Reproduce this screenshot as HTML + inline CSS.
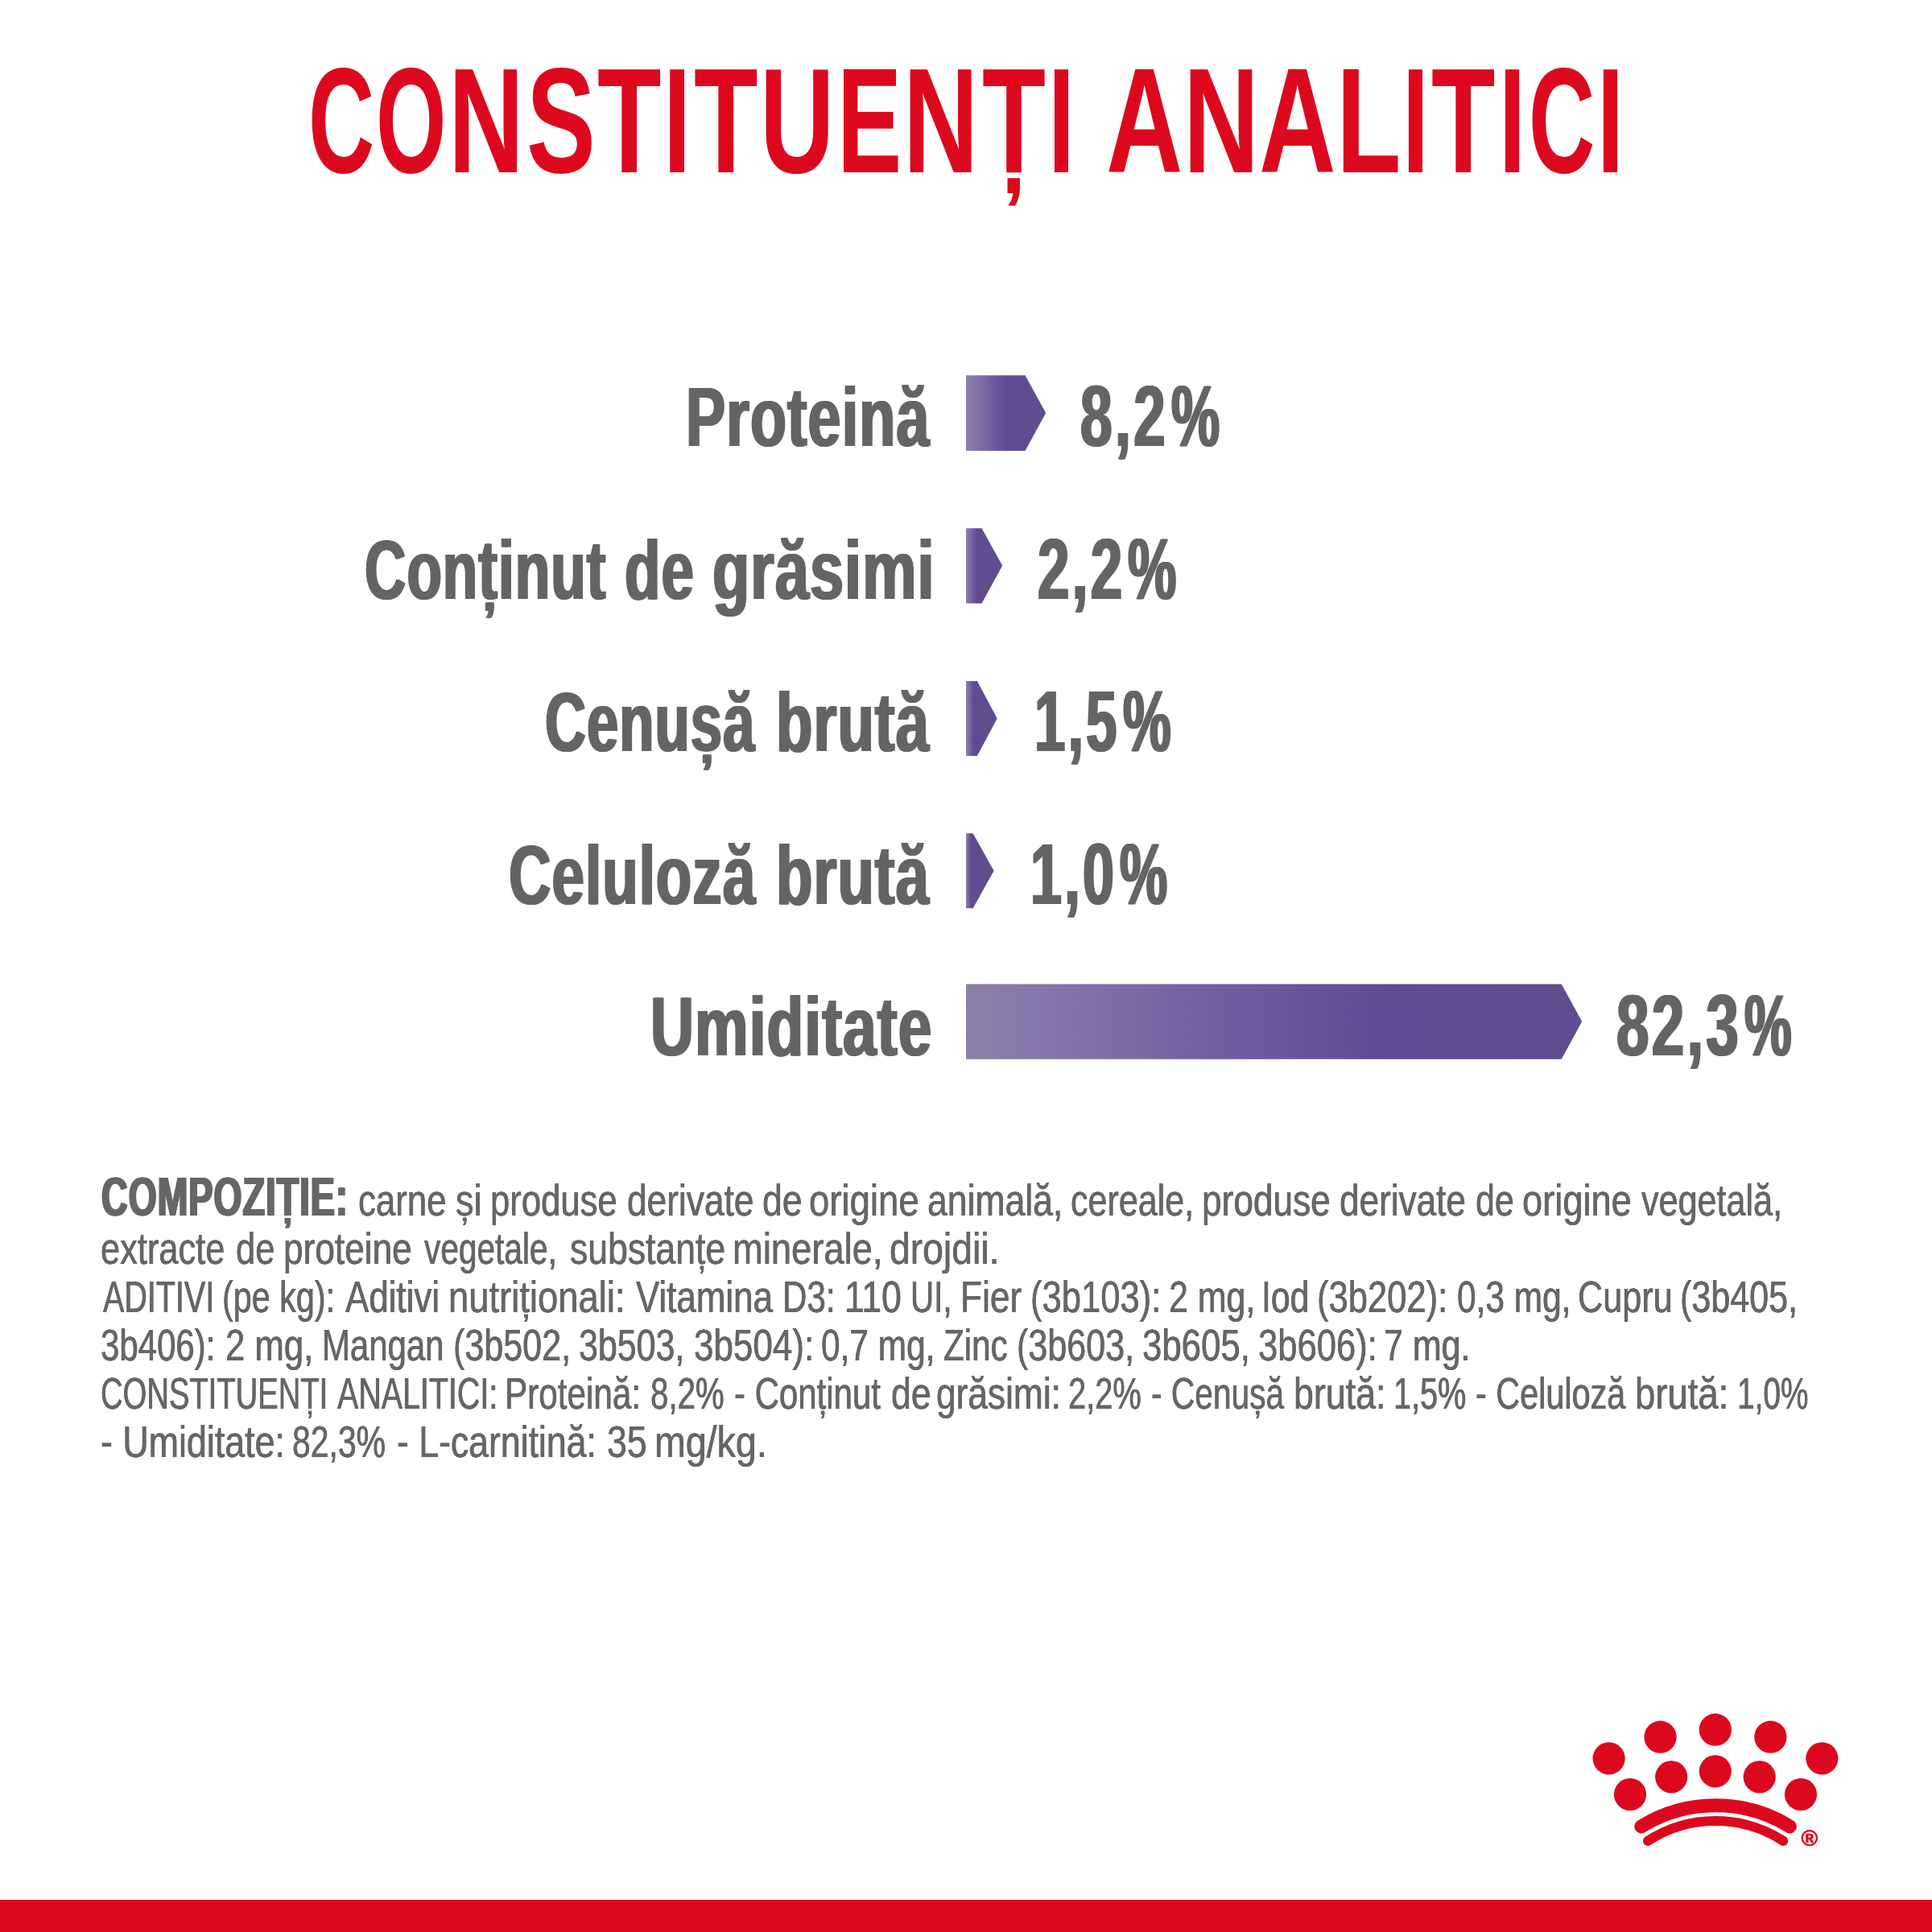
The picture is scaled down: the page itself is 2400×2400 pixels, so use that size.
<!DOCTYPE html>
<html lang="ro">
<head>
<meta charset="utf-8">
<title>Constituenți analitici</title>
<style>
  html, body { margin:0; padding:0; background:#fff; }
  body { width:2400px; height:2400px; position:relative; overflow:hidden;
         font-family:"Liberation Sans", sans-serif; }
  .g { margin:0; padding:0; font-size:0; line-height:0; font-weight:400; }
  .t { position:absolute; white-space:nowrap; line-height:1; transform-origin:0 50%;
        margin:0; padding:0; display:block; }
  .h   { font-size:186.49px; font-weight:700; color:#dc091e; }
  .lab { font-size:104.65px; font-weight:700; color:#646464; }
  .val { font-size:106.83px; font-weight:700; color:#646464; }
  .b   { font-size:67.73px; font-weight:700; color:#666666; }
  .p   { font-size:55.96px; font-weight:400; color:#666666; }
  .txt { position:absolute; left:0; top:0; width:2400px; height:2400px; will-change:transform; }
  svg.art { position:absolute; left:0; top:0; will-change:transform; }
  .foot { position:absolute; left:0; top:2359.6px; width:2400px; height:41px; background:#dc091e; }
</style>
</head>
<body>
<svg class="art" width="2400" height="2400" viewBox="0 0 2400 2400">
  <defs>
    <linearGradient id="g1" gradientUnits="userSpaceOnUse" x1="1200.0" y1="0" x2="1273.5" y2="0"><stop offset="0" stop-color="#8b80a8"/><stop offset="0.15" stop-color="#8574ab"/><stop offset="0.45" stop-color="#705c9e"/><stop offset="0.70" stop-color="#614a93"/><stop offset="1" stop-color="#614c8f"/></linearGradient><linearGradient id="g2" gradientUnits="userSpaceOnUse" x1="1200.0" y1="0" x2="1219.6" y2="0"><stop offset="0" stop-color="#8b80a8"/><stop offset="0.15" stop-color="#8574ab"/><stop offset="0.45" stop-color="#705c9e"/><stop offset="0.70" stop-color="#614a93"/><stop offset="1" stop-color="#614c8f"/></linearGradient><linearGradient id="g3" gradientUnits="userSpaceOnUse" x1="1200.0" y1="0" x2="1213.9" y2="0"><stop offset="0" stop-color="#8b80a8"/><stop offset="0.15" stop-color="#8574ab"/><stop offset="0.45" stop-color="#705c9e"/><stop offset="0.70" stop-color="#614a93"/><stop offset="1" stop-color="#614c8f"/></linearGradient><linearGradient id="g4" gradientUnits="userSpaceOnUse" x1="1200.0" y1="0" x2="1208.7" y2="0"><stop offset="0" stop-color="#8b80a8"/><stop offset="0.15" stop-color="#8574ab"/><stop offset="0.45" stop-color="#705c9e"/><stop offset="0.70" stop-color="#614a93"/><stop offset="1" stop-color="#614c8f"/></linearGradient><linearGradient id="g5" gradientUnits="userSpaceOnUse" x1="1200.0" y1="0" x2="1939.7" y2="0"><stop offset="0" stop-color="#8b80a8"/><stop offset="0.15" stop-color="#8574ab"/><stop offset="0.45" stop-color="#705c9e"/><stop offset="0.70" stop-color="#614a93"/><stop offset="1" stop-color="#614c8f"/></linearGradient>
  </defs>
  <polygon fill="url(#g1)" points="1200.0,466.2 1273.5,466.2 1299.2,513.05 1273.5,559.9 1200.0,559.9"/><polygon fill="url(#g2)" points="1200.0,656.2 1219.6,656.2 1245.2,702.8 1219.6,749.4 1200.0,749.4"/><polygon fill="url(#g3)" points="1200.0,845.9 1213.9,845.9 1238.7,892.4 1213.9,938.9 1200.0,938.9"/><polygon fill="url(#g4)" points="1200.0,1035.3 1208.7,1035.3 1234.6,1081.75 1208.7,1128.2 1200.0,1128.2"/><polygon fill="url(#g5)" points="1200.0,1222.5 1939.7,1222.5 1965.2,1269.1 1939.7,1315.7 1200.0,1315.7"/>
  <g fill="#dc091e"><circle cx="2130.8" cy="2148.7" r="20.1"/><circle cx="2062.5" cy="2157.7" r="20.1"/><circle cx="2199.4" cy="2157.7" r="20.1"/><circle cx="1998.6" cy="2184.4" r="20.1"/><circle cx="2263.4" cy="2184.4" r="20.1"/><circle cx="2076.2" cy="2207.4" r="20.1"/><circle cx="2130.8" cy="2200.4" r="20.1"/><circle cx="2185.7" cy="2207.4" r="20.1"/><circle cx="2025.0" cy="2229.1" r="20.1"/><circle cx="2237.0" cy="2229.1" r="20.1"/></g>
  <g fill="none" stroke="#dc091e" stroke-linecap="round">
    <path d="M2038.8 2268.9 A176 176 0 0 1 2223.4 2268.9" stroke-width="17"/>
    <path d="M2047 2286.9 A155 155 0 0 1 2215.2 2286.9" stroke-width="12"/>
  </g>
  <text x="2247.8" y="2293" text-anchor="middle" font-family='"Liberation Sans", sans-serif' font-size="28" font-weight="700" fill="#dc091e" stroke="#dc091e" stroke-width="0.7">®</text>
</svg>
<div class="txt">
<h1 class="g"><span class="t h" style="left:382.55px;top:56.74px;transform:scaleX(0.6101)">C</span><span class="t h" style="left:467.09px;top:56.74px;transform:scaleX(0.6039)">O</span><span class="t h" style="left:557.27px;top:56.74px;transform:scaleX(0.6975)">N</span><span class="t h" style="left:654.49px;top:56.74px;transform:scaleX(0.6907)">S</span><span class="t h" style="left:741.93px;top:56.74px;transform:scaleX(0.6975)">T</span><span class="t h" style="left:823.85px;top:56.74px;transform:scaleX(0.6589)">I</span><span class="t h" style="left:861.86px;top:56.74px;transform:scaleX(0.6983)">T</span><span class="t h" style="left:943.71px;top:56.74px;transform:scaleX(0.6861)">U</span><span class="t h" style="left:1039.76px;top:56.74px;transform:scaleX(0.6450)">E</span><span class="t h" style="left:1121.83px;top:56.74px;transform:scaleX(0.6928)">N</span><span class="t h" style="left:1219.55px;top:56.74px;transform:scaleX(0.6935)">Ț</span><span class="t h" style="left:1301.75px;top:56.74px;transform:scaleX(0.6359)">I</span> <span class="t h" style="left:1374.31px;top:56.74px;transform:scaleX(0.7077)">A</span><span class="t h" style="left:1470.00px;top:56.74px;transform:scaleX(0.6984)">N</span><span class="t h" style="left:1564.13px;top:56.74px;transform:scaleX(0.7086)">A</span><span class="t h" style="left:1659.78px;top:56.74px;transform:scaleX(0.7070)">L</span><span class="t h" style="left:1741.81px;top:56.74px;transform:scaleX(0.6359)">I</span><span class="t h" style="left:1777.99px;top:56.74px;transform:scaleX(0.6975)">T</span><span class="t h" style="left:1861.67px;top:56.74px;transform:scaleX(0.6375)">I</span><span class="t h" style="left:1898.92px;top:56.74px;transform:scaleX(0.6112)">C</span><span class="t h" style="left:1983.79px;top:56.74px;transform:scaleX(0.6372)">I</span></h1>
<div class="g"><span class="t lab" style="left:851.55px;top:466.21px;letter-spacing:1.5px;text-shadow:1.78px 0 0 #646464,-1.78px 0 0 #646464;transform:scaleX(0.7042)">Proteină</span> <span class="t val" style="left:1341.86px;top:464.37px;letter-spacing:5.0px;text-shadow:1.87px 0 0 #646464,-1.87px 0 0 #646464;transform:scaleX(0.6673)">8,2</span><span class="t val" style="left:1454.73px;top:464.37px;text-shadow:1.97px 0 0 #646464,-1.97px 0 0 #646464;transform:scaleX(0.6341)">%</span></div>
<div class="g"><span class="t lab" style="left:452.58px;top:655.81px;letter-spacing:1.5px;text-shadow:1.84px 0 0 #646464,-1.84px 0 0 #646464;transform:scaleX(0.6796)">Conținut</span> <span class="t lab" style="left:775.52px;top:655.81px;letter-spacing:1.5px;text-shadow:1.80px 0 0 #646464,-1.80px 0 0 #646464;transform:scaleX(0.6944)">de</span> <span class="t lab" style="left:884.53px;top:655.81px;letter-spacing:1.5px;text-shadow:1.73px 0 0 #646464,-1.73px 0 0 #646464;transform:scaleX(0.7226)">grăsimi</span> <span class="t val" style="left:1288.81px;top:653.97px;letter-spacing:5.0px;text-shadow:1.88px 0 0 #646464,-1.88px 0 0 #646464;transform:scaleX(0.6645)">2,2</span><span class="t val" style="left:1401.35px;top:653.97px;text-shadow:1.97px 0 0 #646464,-1.97px 0 0 #646464;transform:scaleX(0.6354)">%</span></div>
<div class="g"><span class="t lab" style="left:677.42px;top:844.81px;letter-spacing:1.5px;text-shadow:1.85px 0 0 #646464,-1.85px 0 0 #646464;transform:scaleX(0.6750)">Cenușă</span> <span class="t lab" style="left:963.74px;top:844.81px;letter-spacing:1.5px;text-shadow:1.76px 0 0 #646464,-1.76px 0 0 #646464;transform:scaleX(0.7096)">brută</span> <span class="t val" style="left:1285.48px;top:843.27px;letter-spacing:5.0px;text-shadow:1.93px 0 0 #646464,-1.93px 0 0 #646464;transform:scaleX(0.6467)">1,5</span><span class="t val" style="left:1395.24px;top:843.27px;text-shadow:1.99px 0 0 #646464,-1.99px 0 0 #646464;transform:scaleX(0.6287)">%</span></div>
<div class="g"><span class="t lab" style="left:631.52px;top:1034.81px;letter-spacing:1.5px;text-shadow:1.80px 0 0 #646464,-1.80px 0 0 #646464;transform:scaleX(0.6944)">Celuloză</span> <span class="t lab" style="left:963.74px;top:1034.81px;letter-spacing:1.5px;text-shadow:1.76px 0 0 #646464,-1.76px 0 0 #646464;transform:scaleX(0.7096)">brută</span> <span class="t val" style="left:1280.43px;top:1033.27px;letter-spacing:5.0px;text-shadow:1.91px 0 0 #646464,-1.91px 0 0 #646464;transform:scaleX(0.6551)">1,0</span><span class="t val" style="left:1390.81px;top:1033.27px;text-shadow:2.01px 0 0 #646464,-2.01px 0 0 #646464;transform:scaleX(0.6231)">%</span></div>
<div class="g"><span class="t lab" style="left:808.19px;top:1222.71px;letter-spacing:1.5px;text-shadow:1.75px 0 0 #646464,-1.75px 0 0 #646464;transform:scaleX(0.7148)">Umiditate</span> <span class="t val" style="left:2007.76px;top:1221.07px;letter-spacing:5.0px;text-shadow:1.84px 0 0 #646464,-1.84px 0 0 #646464;transform:scaleX(0.6806)">82,3</span><span class="t val" style="left:2166.83px;top:1221.07px;text-shadow:2.02px 0 0 #646464,-2.02px 0 0 #646464;transform:scaleX(0.6173)">%</span></div>
<p class="g"><span class="t b" style="left:126.29px;top:1452.77px;letter-spacing:1.5px;text-shadow:1.80px 0 0 #666666,-1.80px 0 0 #666666;transform:scaleX(0.6665)">COMPOZIȚIE:</span> <span class="t p" style="left:445.44px;top:1463.43px;text-shadow:0.45px 0 0 #666666,-0.45px 0 0 #666666;transform:scaleX(0.7823)">carne</span> <span class="t p" style="left:566.45px;top:1463.43px;text-shadow:0.43px 0 0 #666666,-0.43px 0 0 #666666;transform:scaleX(0.8061)">și</span> <span class="t p" style="left:609.30px;top:1463.43px;text-shadow:0.45px 0 0 #666666,-0.45px 0 0 #666666;transform:scaleX(0.7799)">produse</span> <span class="t p" style="left:779.30px;top:1463.43px;text-shadow:0.44px 0 0 #666666,-0.44px 0 0 #666666;transform:scaleX(0.7910)">derivate</span> <span class="t p" style="left:947.16px;top:1463.43px;text-shadow:0.44px 0 0 #666666,-0.44px 0 0 #666666;transform:scaleX(0.7981)">de</span> <span class="t p" style="left:1005.19px;top:1463.43px;text-shadow:0.43px 0 0 #666666,-0.43px 0 0 #666666;transform:scaleX(0.8133)">origine</span> <span class="t p" style="left:1152.23px;top:1463.43px;text-shadow:0.44px 0 0 #666666,-0.44px 0 0 #666666;transform:scaleX(0.7960)">animală,</span> <span class="t p" style="left:1330.22px;top:1463.43px;text-shadow:0.45px 0 0 #666666,-0.45px 0 0 #666666;transform:scaleX(0.7695)">cereale,</span> <span class="t p" style="left:1492.83px;top:1463.43px;text-shadow:0.44px 0 0 #666666,-0.44px 0 0 #666666;transform:scaleX(0.7903)">produse</span> <span class="t p" style="left:1664.12px;top:1463.43px;text-shadow:0.44px 0 0 #666666,-0.44px 0 0 #666666;transform:scaleX(0.7884)">derivate</span> <span class="t p" style="left:1832.90px;top:1463.43px;text-shadow:0.46px 0 0 #666666,-0.46px 0 0 #666666;transform:scaleX(0.7688)">de</span> <span class="t p" style="left:1890.88px;top:1463.43px;text-shadow:0.43px 0 0 #666666,-0.43px 0 0 #666666;transform:scaleX(0.8088)">origine</span> <span class="t p" style="left:2038.62px;top:1463.43px;text-shadow:0.45px 0 0 #666666,-0.45px 0 0 #666666;transform:scaleX(0.7707)">vegetală,</span></p>
<p class="g"><span class="t p" style="left:125.27px;top:1522.83px;text-shadow:0.45px 0 0 #666666,-0.45px 0 0 #666666;transform:scaleX(0.7757)">extracte</span> <span class="t p" style="left:292.88px;top:1522.83px;text-shadow:0.45px 0 0 #666666,-0.45px 0 0 #666666;transform:scaleX(0.7786)">de</span> <span class="t p" style="left:352.01px;top:1522.83px;text-shadow:0.44px 0 0 #666666,-0.44px 0 0 #666666;transform:scaleX(0.7897)">proteine</span> <span class="t p" style="left:526.50px;top:1522.83px;text-shadow:0.48px 0 0 #666666,-0.48px 0 0 #666666;transform:scaleX(0.7258)">vegetale,</span> <span class="t p" style="left:707.58px;top:1522.83px;text-shadow:0.44px 0 0 #666666,-0.44px 0 0 #666666;transform:scaleX(0.7961)">substanțe</span> <span class="t p" style="left:909.83px;top:1522.83px;text-shadow:0.43px 0 0 #666666,-0.43px 0 0 #666666;transform:scaleX(0.8107)">minerale,</span> <span class="t p" style="left:1104.72px;top:1522.83px;text-shadow:0.42px 0 0 #666666,-0.42px 0 0 #666666;transform:scaleX(0.8281)">drojdii.</span></p>
<p class="g"><span class="t p" style="left:127.62px;top:1582.93px;text-shadow:0.50px 0 0 #666666,-0.50px 0 0 #666666;transform:scaleX(0.7056)">ADITIVI</span> <span class="t p" style="left:275.79px;top:1582.93px;text-shadow:0.47px 0 0 #666666,-0.47px 0 0 #666666;transform:scaleX(0.7382)">(pe kg):</span> <span class="t p" style="left:428.88px;top:1582.93px;text-shadow:0.45px 0 0 #666666,-0.45px 0 0 #666666;transform:scaleX(0.7845)">Aditivi</span> <span class="t p" style="left:557.27px;top:1582.93px;text-shadow:0.43px 0 0 #666666,-0.43px 0 0 #666666;transform:scaleX(0.8112)">nutriționali:</span> <span class="t p" style="left:789.56px;top:1582.93px;text-shadow:0.45px 0 0 #666666,-0.45px 0 0 #666666;transform:scaleX(0.7843)">Vitamina</span> <span class="t p" style="left:972.49px;top:1582.93px;text-shadow:0.46px 0 0 #666666,-0.46px 0 0 #666666;transform:scaleX(0.7534)">D3:</span> <span class="t p" style="left:1048.83px;top:1582.93px;text-shadow:0.44px 0 0 #666666,-0.44px 0 0 #666666;transform:scaleX(0.7928)">110</span> <span class="t p" style="left:1130.55px;top:1582.93px;text-shadow:0.48px 0 0 #666666,-0.48px 0 0 #666666;transform:scaleX(0.7229)">UI,</span> <span class="t p" style="left:1192.95px;top:1582.93px;text-shadow:0.44px 0 0 #666666,-0.44px 0 0 #666666;transform:scaleX(0.7915)">Fier</span> <span class="t p" style="left:1280.04px;top:1582.93px;text-shadow:0.45px 0 0 #666666,-0.45px 0 0 #666666;transform:scaleX(0.7789)">(3b103):</span> <span class="t p" style="left:1451.85px;top:1582.93px;text-shadow:0.46px 0 0 #666666,-0.46px 0 0 #666666;transform:scaleX(0.7662)">2 mg,</span> <span class="t p" style="left:1567.44px;top:1582.93px;text-shadow:0.46px 0 0 #666666,-0.46px 0 0 #666666;transform:scaleX(0.7632)">Iod</span> <span class="t p" style="left:1636.42px;top:1582.93px;text-shadow:0.45px 0 0 #666666,-0.45px 0 0 #666666;transform:scaleX(0.7786)">(3b202):</span> <span class="t p" style="left:1809.72px;top:1582.93px;text-shadow:0.46px 0 0 #666666,-0.46px 0 0 #666666;transform:scaleX(0.7579)">0,3 mg,</span> <span class="t p" style="left:1959.83px;top:1582.93px;text-shadow:0.45px 0 0 #666666,-0.45px 0 0 #666666;transform:scaleX(0.7727)">Cupru</span> <span class="t p" style="left:2086.89px;top:1582.93px;text-shadow:0.45px 0 0 #666666,-0.45px 0 0 #666666;transform:scaleX(0.7697)">(3b405,</span></p>
<p class="g"><span class="t p" style="left:125.32px;top:1642.93px;text-shadow:0.47px 0 0 #666666,-0.47px 0 0 #666666;transform:scaleX(0.7501)">3b406):</span> <span class="t p" style="left:280.44px;top:1642.93px;text-shadow:0.45px 0 0 #666666,-0.45px 0 0 #666666;transform:scaleX(0.7812)">2 mg,</span> <span class="t p" style="left:399.62px;top:1642.93px;text-shadow:0.47px 0 0 #666666,-0.47px 0 0 #666666;transform:scaleX(0.7494)">Mangan</span> <span class="t p" style="left:563.01px;top:1642.93px;text-shadow:0.45px 0 0 #666666,-0.45px 0 0 #666666;transform:scaleX(0.7697)">(3b502,</span> <span class="t p" style="left:719.47px;top:1642.93px;text-shadow:0.46px 0 0 #666666,-0.46px 0 0 #666666;transform:scaleX(0.7672)">3b503,</span> <span class="t p" style="left:862.25px;top:1642.93px;text-shadow:0.45px 0 0 #666666,-0.45px 0 0 #666666;transform:scaleX(0.7863)">3b504):</span> <span class="t p" style="left:1019.72px;top:1642.93px;text-shadow:0.46px 0 0 #666666,-0.46px 0 0 #666666;transform:scaleX(0.7579)">0,7 mg,</span> <span class="t p" style="left:1172.25px;top:1642.93px;text-shadow:0.46px 0 0 #666666,-0.46px 0 0 #666666;transform:scaleX(0.7534)">Zinc</span> <span class="t p" style="left:1262.51px;top:1642.93px;text-shadow:0.45px 0 0 #666666,-0.45px 0 0 #666666;transform:scaleX(0.7697)">(3b603,</span> <span class="t p" style="left:1419.19px;top:1642.93px;text-shadow:0.45px 0 0 #666666,-0.45px 0 0 #666666;transform:scaleX(0.7826)">3b605,</span> <span class="t p" style="left:1562.70px;top:1642.93px;text-shadow:0.45px 0 0 #666666,-0.45px 0 0 #666666;transform:scaleX(0.7791)">3b606):</span> <span class="t p" style="left:1719.17px;top:1642.93px;text-shadow:0.46px 0 0 #666666,-0.46px 0 0 #666666;transform:scaleX(0.7672)">7 mg.</span></p>
<p class="g"><span class="t p" style="left:125.45px;top:1703.13px;text-shadow:0.51px 0 0 #666666,-0.51px 0 0 #666666;transform:scaleX(0.6828)">CONSTITUENȚI</span> <span class="t p" style="left:419.12px;top:1703.13px;text-shadow:0.50px 0 0 #666666,-0.50px 0 0 #666666;transform:scaleX(0.7043)">ANALITICI:</span> <span class="t p" style="left:626.98px;top:1703.13px;text-shadow:0.46px 0 0 #666666,-0.46px 0 0 #666666;transform:scaleX(0.7550)">Proteină:</span> <span class="t p" style="left:807.76px;top:1703.13px;text-shadow:0.49px 0 0 #666666,-0.49px 0 0 #666666;transform:scaleX(0.7196)">8,2%</span> <span class="t p" style="left:912.38px;top:1703.13px;text-shadow:0.47px 0 0 #666666,-0.47px 0 0 #666666;transform:scaleX(0.7499)">- Conținut</span> <span class="t p" style="left:1106.72px;top:1703.13px;text-shadow:0.44px 0 0 #666666,-0.44px 0 0 #666666;transform:scaleX(0.7981)">de</span> <span class="t p" style="left:1162.80px;top:1703.13px;text-shadow:0.44px 0 0 #666666,-0.44px 0 0 #666666;transform:scaleX(0.7910)">grăsimi:</span> <span class="t p" style="left:1327.28px;top:1703.13px;text-shadow:0.49px 0 0 #666666,-0.49px 0 0 #666666;transform:scaleX(0.7121)">2,2%</span> <span class="t p" style="left:1429.87px;top:1703.13px;text-shadow:0.48px 0 0 #666666,-0.48px 0 0 #666666;transform:scaleX(0.7274)">- Cenușă</span> <span class="t p" style="left:1606.80px;top:1703.13px;text-shadow:0.44px 0 0 #666666,-0.44px 0 0 #666666;transform:scaleX(0.7998)">brută:</span> <span class="t p" style="left:1731.17px;top:1703.13px;text-shadow:0.49px 0 0 #666666,-0.49px 0 0 #666666;transform:scaleX(0.7080)">1,5%</span> <span class="t p" style="left:1833.28px;top:1703.13px;text-shadow:0.47px 0 0 #666666,-0.47px 0 0 #666666;transform:scaleX(0.7394)">- Celuloză</span> <span class="t p" style="left:2031.44px;top:1703.13px;text-shadow:0.43px 0 0 #666666,-0.43px 0 0 #666666;transform:scaleX(0.8131)">brută:</span> <span class="t p" style="left:2157.72px;top:1703.13px;text-shadow:0.50px 0 0 #666666,-0.50px 0 0 #666666;transform:scaleX(0.6942)">1,0%</span></p>
<p class="g"><span class="t p" style="left:125.22px;top:1763.13px;text-shadow:0.44px 0 0 #666666,-0.44px 0 0 #666666;transform:scaleX(0.8003)">- Umiditate:</span> <span class="t p" style="left:362.74px;top:1763.13px;text-shadow:0.48px 0 0 #666666,-0.48px 0 0 #666666;transform:scaleX(0.7313)">82,3%</span> <span class="t p" style="left:493.17px;top:1763.13px;text-shadow:0.44px 0 0 #666666,-0.44px 0 0 #666666;transform:scaleX(0.7970)">- L-carnitină:</span> <span class="t p" style="left:754.23px;top:1763.13px;text-shadow:0.44px 0 0 #666666,-0.44px 0 0 #666666;transform:scaleX(0.7970)">35</span> <span class="t p" style="left:813.26px;top:1763.13px;text-shadow:0.42px 0 0 #666666,-0.42px 0 0 #666666;transform:scaleX(0.8321)">mg/kg.</span></p>
</div>
<div class="foot"></div>
</body>
</html>
